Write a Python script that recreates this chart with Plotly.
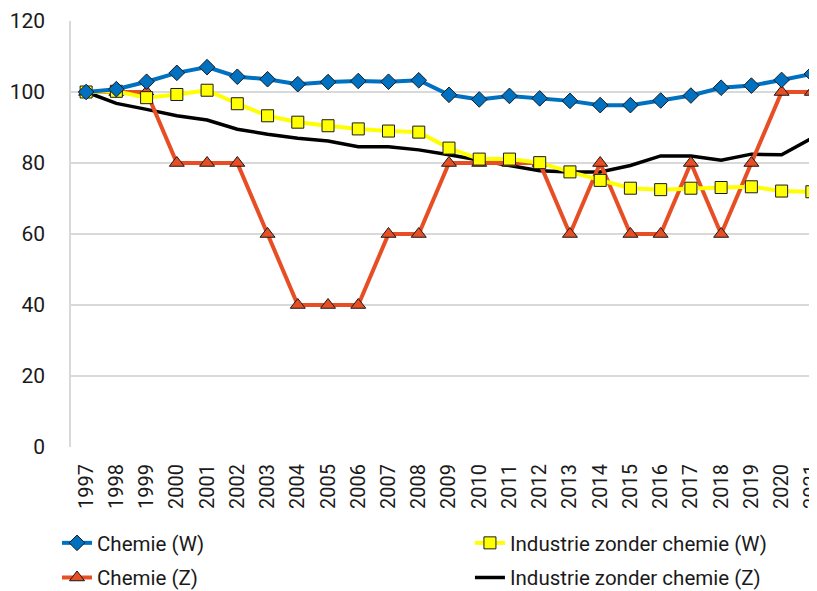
import plotly.graph_objects as go

years = [str(y) for y in range(1997, 2022)]
chemie_w = [100, 100.8, 102.9, 105.4, 107.0, 104.3, 103.6, 102.2, 102.8, 103.1, 102.9, 103.3,
            99.2, 97.9, 98.9, 98.2, 97.5, 96.3, 96.3, 97.6, 99.0, 101.2, 101.8, 103.4, 105.1]
industrie_w = [100, 100.2, 98.4, 99.3, 100.5, 96.7, 93.3, 91.5, 90.5, 89.6, 89.0, 88.7,
               84.2, 81.1, 81.1, 80.1, 77.5, 75.1, 72.9, 72.5, 72.9, 73.1, 73.3, 72.1, 71.9]
chemie_z = [100, 100, 100, 80, 80, 80, 60, 40, 40, 40, 60, 60,
            80, 80, 80, 80, 60, 80, 60, 60, 80, 60, 80, 100, 100]
industrie_z = [100, 96.8, 95.1, 93.3, 92.1, 89.5, 88.1, 87.0, 86.2, 84.6, 84.6, 83.7,
               82.3, 80.7, 79.3, 77.8, 77.5, 77.5, 79.3, 82.0, 82.0, 80.8, 82.5, 82.3, 87.0]
y_ticks = [0, 20, 40, 60, 80, 100, 120]

BLUE = "#0070C0"
YELLOW = "#FFFF00"
ORANGE = "#E84E24"
FONT = "Roboto"

fig = go.Figure()
fig.add_trace(go.Scatter(x=years, y=industrie_z, name="Industrie zonder chemie (Z)", mode="lines",
                         line=dict(color="black", width=3.5),
                         legend="legend2", legendgroup="d", legendrank=2))
fig.add_trace(go.Scatter(x=years, y=chemie_z, name="Chemie (Z)", mode="lines+markers",
                         line=dict(color=ORANGE, width=4),
                         marker=dict(symbol="triangle-up", size=13, color=ORANGE,
                                     line=dict(color="#1a1a1a", width=1)),
                         legend="legend", legendgroup="c", legendrank=2))
fig.add_trace(go.Scatter(x=years, y=industrie_w, name="Industrie zonder chemie (W)", mode="lines+markers",
                         line=dict(color=YELLOW, width=4),
                         marker=dict(symbol="square", size=12, color=YELLOW,
                                     line=dict(color="#1a1a1a", width=1)),
                         legend="legend2", legendgroup="b", legendrank=1))
fig.add_trace(go.Scatter(x=years, y=chemie_w, name="Chemie (W)", mode="lines+markers",
                         line=dict(color=BLUE, width=4),
                         marker=dict(symbol="diamond", size=12, color=BLUE,
                                     line=dict(color="#1a1a1a", width=1)),
                         legend="legend", legendgroup="a", legendrank=1))

legend_common = dict(orientation="v", yanchor="top", y=0.1166, xref="container", yref="container",
                     font=dict(family=FONT, size=20.5, color="#1a1a1a"),
                     tracegroupgap=5, bgcolor="rgba(0,0,0,0)", itemwidth=30)

# the page places the figure 8px in from the top-left corner, so the figure is 8px smaller
fig.update_layout(
    width=809, height=583,
    margin=dict(l=63, r=0, t=13, b=144, autoexpand=False),
    paper_bgcolor="white", plot_bgcolor="white",
    font=dict(family=FONT, size=21, color="#1a1a1a"),
    showlegend=True,
    legend=dict(x=0.0606, xanchor="left", **legend_common),
    legend2=dict(x=0.571, xanchor="left", **legend_common),
    xaxis=dict(type="category", range=[-0.5, 24.17], tickangle=-90, automargin=False,
               tickfont=dict(family=FONT, size=20, color="#1a1a1a"),
               showgrid=False, showline=False, zeroline=False,
               ticks="outside", ticklen=8, tickcolor="rgba(0,0,0,0)"),
    yaxis=dict(range=[0, 120], tickvals=y_ticks, showgrid=True, gridcolor="#d9d9d9", gridwidth=1.5,
               showline=True, linecolor="#d9d9d9", linewidth=1.5, zeroline=False, automargin=False,
               ticks="outside", ticklen=20, tickcolor="rgba(0,0,0,0)",
               tickfont=dict(family=FONT, size=21, color="#1a1a1a")),
)

fig.write_html("out.html")
